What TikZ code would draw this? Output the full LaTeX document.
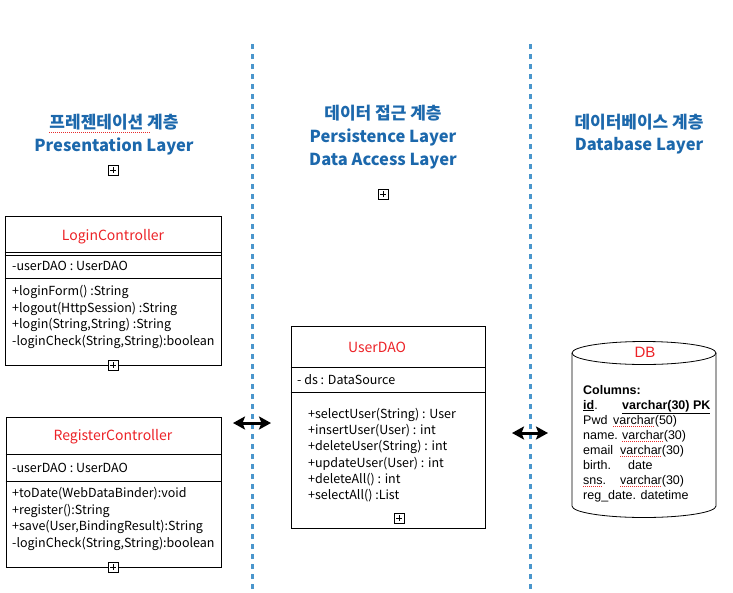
\documentclass[tikz,border=0pt]{standalone}
\usepackage{fontspec}
\setmainfont{Noto Sans CJK KR}
\newfontfamily\dbfont{Liberation Sans}
\usetikzlibrary{arrows.meta}
\definecolor{layerblue}{RGB}{28,104,172}
\definecolor{sepblue}{RGB}{74,150,204}
\definecolor{classred}{RGB}{236,34,39}
\definecolor{spellred}{RGB}{232,44,44}
\tikzset{
layer/.style={font=\fontsize{16.5}{20}\selectfont\bfseries,text=layerblue,inner sep=0pt},
layerkr/.style={layer,font=\fontsize{17}{20}\selectfont\bfseries},
frame/.style={draw,line width=0.8pt,inner sep=0pt},
divider/.style={line width=0.8pt},
classname/.style={font=\fontsize{14}{16}\selectfont,text=classred,inner sep=0pt,yshift=-1.5pt},
member/.style={font=\fontsize{12.5}{15}\selectfont,anchor=west,inner sep=0pt,text height=9pt,text depth=3pt,yshift=-1.5pt},
column/.style={font=\dbfont\fontsize{12.5}{15}\selectfont,anchor=west,inner sep=0pt,text height=9pt,text depth=3pt},
expander/.style={draw,fill=white,line width=0.6pt,minimum size=10pt,inner sep=0pt,
  path picture={\draw[line width=0.6pt] ([yshift=-2pt]path picture bounding box.north) -- ([yshift=2pt]path picture bounding box.south)
  ([xshift=2pt]path picture bounding box.west) -- ([xshift=-2pt]path picture bounding box.east);}},
separator/.style={sepblue,line width=3pt,dash pattern=on 5pt off 5pt},
bothway/.style={{Stealth[length=12pt,width=13pt,inset=2.5pt]}-{Stealth[length=12pt,width=13pt,inset=2.5pt]},line width=3pt},
squiggle/.style={spellred,line width=1pt,dash pattern=on 1pt off 1pt}
}
\begin{document}
\begin{tikzpicture}[x=1pt,y=-1pt]
\useasboundingbox (0,0) rectangle (733,592);
\coordinate (sepAtop) at (252.5,44);
\coordinate (sepAbot) at (252.5,592);
\coordinate (sepBtop) at (530,44);
\coordinate (sepBbot) at (530,592);
\draw[separator] (sepAtop) -- (sepAbot);
\draw[separator] (sepBtop) -- (sepBbot);

% layer titles
\node[layerkr] (krA) at (114,122) {프레젠테이션 계층};
\node[layer] (enA) at (114,146) {Presentation Layer};
\node[expander] (plusA) at (113,170) {};
\draw[squiggle] ([yshift=-10pt]krA.west) -- ++(101,0);
\node[layerkr] (krB) at (383,113) {데이터 접근 계층};
\node[layer] (enB) at (383,137) {Persistence Layer};
\node[layer] (enB2) at (383,161) {Data Access Layer};
\node[expander] (plusB) at (383,194) {};
\node[layerkr] (krC) at (639,122) {데이터베이스 계층};
\node[layer] (enC) at (639,146) {Database Layer};

% LoginController
\node[frame,minimum width=216pt,minimum height=149pt] (login) at (113,290.5) {};
\node[classname] (loginName) at (113,235) {LoginController};
\draw[divider] (login.west |- 0,252.5) -- (login.east |- 0,252.5);
\draw[divider] (login.west |- 0,255) -- (login.east |- 0,255);
\node[member] (loginAttr) at (12,266) {-userDAO : UserDAO};
\draw[divider] (login.west |- 0,278) -- (login.east |- 0,278);
\foreach \m [count=\i from 0] in {{+loginForm() :String},{+logout(HttpSession) :String},{+login(String,String) :String},{-loginCheck(String,String):boolean}}
  \node[member] (lm\i) at (12,291+16.7*\i) {\m};
\node[expander] (plusLogin) at (113,365) {};

% RegisterController
\node[frame,minimum width=215pt,minimum height=150pt] (register) at (113.5,492) {};
\node[classname] (registerName) at (113,435) {RegisterController};
\draw[divider] (register.west |- 0,454) -- (register.east |- 0,454);
\node[member] (registerAttr) at (12,468) {-userDAO : UserDAO};
\draw[divider] (register.west |- 0,481) -- (register.east |- 0,481);
\foreach \m [count=\i from 0] in {{+toDate(WebDataBinder):void},{+register():String},{+save(User,BindingResult):String},{-loginCheck(String,String):boolean}}
  \node[member] (rm\i) at (12,493+16.7*\i) {\m};
\node[expander] (plusRegister) at (113,567) {};

% UserDAO
\node[frame,minimum width=194pt,minimum height=202pt] (dao) at (388,427) {};
\node[classname] (daoName) at (377,346) {UserDAO};
\draw[divider] (dao.west |- 0,367) -- (dao.east |- 0,367);
\node[member] (daoAttr) at (297,380) {- ds : DataSource};
\draw[divider] (dao.west |- 0,392) -- (dao.east |- 0,392);
\foreach \m [count=\i from 0] in {{+selectUser(String) : User},{+insertUser(User) : int},{+deleteUser(String) : int},{+updateUser(User) : int},{+deleteAll() : int},{+selectAll() :List}}
  \node[member] (dm\i) at (308,414+16.2*\i) {\m};
\node[expander] (plusDao) at (399,518) {};

% DB cylinder
\coordinate (db) at (644,353);
\draw[line width=0.8pt] (572,353) -- (572,506) arc (180:360:72pt and 11.5pt) -- (716,353);
\draw[line width=0.8pt] (db) ellipse [x radius=72pt,y radius=11.5pt];
\node[inner sep=0pt,text=classred,font=\dbfont\fontsize{15}{18}\selectfont] (dbName) at (645,352) {DB};
\node[column] (cTitle) at (583,391) {\textbf{Columns:}};
\node[column] (cId) at (583,406) {\underline{\textbf{id}}.};
\node[column] (tId) at (622,406) {\underline{\textbf{varchar(30) PK}}};
\node[column] (cPwd) at (583,421) {Pwd};
\node[column] (tPwd) at (613,421) {varchar(50)};
\node[column] (cName) at (583,436) {name.};
\node[column] (tName) at (622,436) {varchar(30)};
\node[column] (cEmail) at (583,451) {email};
\node[column] (tEmail) at (620,451) {varchar(30)};
\node[column] (cBirth) at (583,466) {birth.};
\node[column] (tBirth) at (628,466) {date};
\node[column] (cSns) at (583,481) {sns.};
\node[column] (tSns) at (620,481) {varchar(30)};
\node[column] (cReg) at (583,496) {reg\_date. datetime};
\foreach \n in {tPwd,tName,tEmail,tSns}
  \draw[squiggle] ([yshift=-2.5pt]\n.base west) -- ++(42,0);
\draw[squiggle] ([yshift=-2.5pt]cSns.base west) -- ++(19,0);

% layer arrows
\coordinate (arrA1) at (233,423);
\coordinate (arrA2) at (271,423);
\coordinate (arrB1) at (512,433);
\coordinate (arrB2) at (548,433);
\draw[bothway] (arrA1) -- (arrA2);
\draw[bothway] (arrB1) -- (arrB2);
\end{tikzpicture}
\end{document}
